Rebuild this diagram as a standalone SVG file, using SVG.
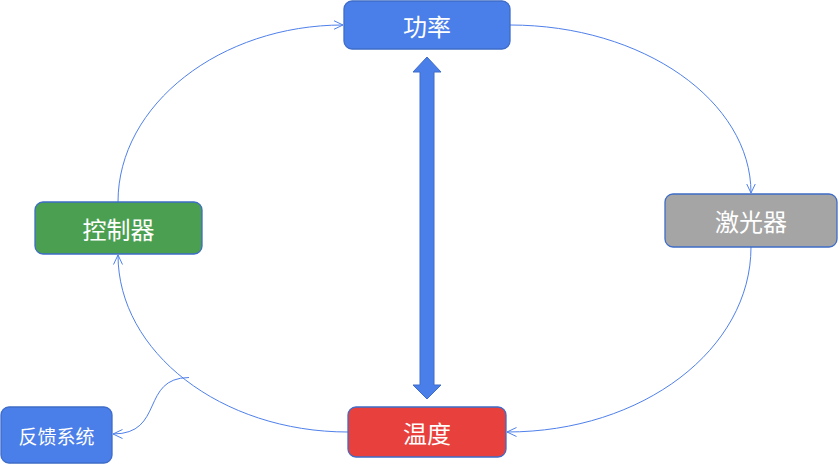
<svg xmlns="http://www.w3.org/2000/svg" width="839" height="465" viewBox="0 0 839 465">
<defs>
<style>
.node rect{stroke:#3e6cc8;stroke-width:1.3}
.lbl{font-family:"Noto Sans CJK SC","Noto Sans",sans-serif;fill:#ffffff;text-anchor:middle;dominant-baseline:central;font-size:24px}
.small{font-size:19px}
.conn{fill:none;stroke:#4f80ea;stroke-width:1}
</style>
<marker id="open" viewBox="0 0 10 10" refX="9.5" refY="5" markerWidth="10" markerHeight="10" markerUnits="userSpaceOnUse" orient="auto">
<path d="M0,0.5 L9.5,5 L0,9.5" fill="none" stroke="#4f80ea" stroke-width="1"/>
</marker>
</defs>
<rect width="839" height="465" fill="#ffffff"/>
<g id="connectors">
<path class="conn" d="M510,25 C643,25 751,101 751,193" marker-end="url(#open)"/>
<path class="conn" d="M751,247 C751,349 643,432 507,432" marker-end="url(#open)"/>
<path class="conn" d="M348,432 C221,432 118,352 118,255" marker-end="url(#open)"/>
<path class="conn" d="M118,202 C118,104 221,25 343,25" marker-end="url(#open)"/>
<path class="conn" d="M189,377.5 C140,378 165,434 113,434" marker-end="url(#open)"/>
<path id="double-arrow" d="M427,57 L441,72 L434,72 L434,385 L441,385 L427,399 L413,385 L420,385 L420,72 L413,72 Z" fill="#4a7ee8" stroke="#3e6cc8" stroke-width="1"/>
</g>
<g id="node-power" class="node">
<rect x="344" y="1" width="166" height="48" rx="8" fill="#4a7ee8"/>
<text class="lbl" x="427" y="25">功率</text>
</g>
<g id="node-laser" class="node">
<rect x="665" y="194" width="172" height="53" rx="8" fill="#a5a5a5"/>
<text class="lbl" x="751" y="220">激光器</text>
</g>
<g id="node-controller" class="node">
<rect x="35" y="202" width="167" height="52" rx="8" fill="#4b9f50"/>
<text class="lbl" x="118.5" y="228">控制器</text>
</g>
<g id="node-temperature" class="node">
<rect x="348" y="407" width="158" height="50" rx="8" fill="#e8403c"/>
<text class="lbl" x="427" y="432">温度</text>
</g>
<g id="node-feedback" class="node">
<rect x="1" y="407" width="111" height="56" rx="8" fill="#4a7ee8"/>
<text class="lbl small" x="56.5" y="435">反馈系统</text>
</g>
</svg>
